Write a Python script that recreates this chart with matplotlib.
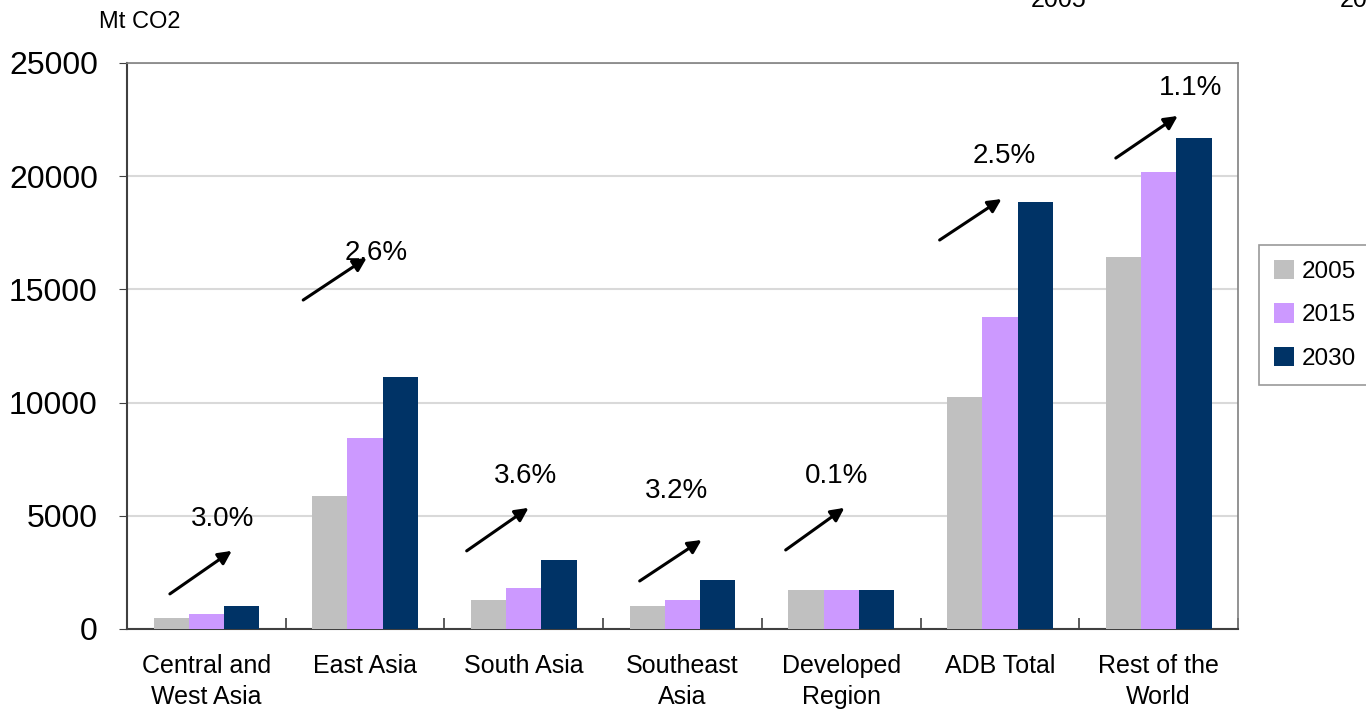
import numpy as np
import matplotlib.pyplot as plt

# categories and CO2 emissions (Mt CO2)
regions = ['Central and\nWest Asia', 'East Asia', 'South Asia', 'Southeast\nAsia',
           'Developed\nRegion', 'ADB Total', 'Rest of the\nWorld']
years = ['2005', '2015', '2030']
co2_2005 = [490, 5870, 1280, 1020, 1720, 10260, 16430]
co2_2015 = [660, 8440, 1810, 1280, 1720, 13790, 20190]
co2_2030 = [1020, 11130, 3050, 2160, 1710, 18860, 21690]
growth = ['3.0%', '2.6%', '3.6%', '3.2%', '0.1%', '2.5%', '1.1%']

colors = ['#C0C0C0', '#CC99FF', '#003366']

# arrow (start x offset, start y, end x offset, end y) and label position per region
arrow_pos = [(-0.23, 1550, 0.16, 3450), (-0.39, 14530, 0.01, 16390),
             (-0.36, 3450, 0.03, 5350), (-0.27, 2120, 0.12, 3930),
             (-0.35, 3490, 0.02, 5350), (-0.38, 17180, 0.01, 18990),
             (-0.27, 20800, 0.12, 22660)]
label_pos = [(0.10, 4860), (0.07, 16610), (0.01, 6760), (-0.04, 6100),
             (-0.03, 6760), (0.03, 20890), (0.20, 23900)]

plt.rcParams['font.family'] = ['Liberation Sans', 'DejaVu Sans']

fig = plt.figure(figsize=(13.66, 7.10), dpi=100)
ax = fig.add_axes([0.093, 0.1141, 0.8133, 0.7972])

x = np.arange(len(regions))
w = 0.222
series = [co2_2005, co2_2015, co2_2030]
for k in range(3):
    ax.bar(x + (k - 1) * w, series[k], w, color=colors[k], label=years[k], zorder=3)

ax.set_xlim(-0.5, len(regions) - 0.5)
ax.set_ylim(0, 25000)
ax.set_yticks(np.arange(0, 25001, 5000))
ax.yaxis.grid(True, color='#D9D9D9', linewidth=1.5, zorder=0)
ax.tick_params(axis='y', labelsize=23, length=6, pad=15, color='#404040')

ax.set_xticks(x)
ax.set_xticklabels(regions, fontsize=18, linespacing=1.35)
ax.tick_params(axis='x', which='major', length=0, pad=18)
ax.set_xticks(np.arange(-0.5, len(regions), 1), minor=True)
ax.tick_params(axis='x', which='minor', direction='in', length=8, width=1.2, color='#404040')

for s in ['left', 'bottom']:
    ax.spines[s].set_color('#404040')
    ax.spines[s].set_linewidth(1.5)
for s in ['top', 'right']:
    ax.spines[s].set_color('#808080')
    ax.spines[s].set_linewidth(1.2)

for i in range(len(regions)):
    x0, y0, x1, y1 = arrow_pos[i]
    ax.annotate('', xy=(i + x1, y1), xytext=(i + x0, y0),
                arrowprops=dict(arrowstyle='-|>', color='black', lw=2.2, mutation_scale=20,
                                shrinkA=0, shrinkB=0), zorder=5)
    ax.text(i + label_pos[i][0], label_pos[i][1], growth[i], fontsize=20,
            ha='center', va='center', zorder=5)

fig.text(0.102, 0.969, 'Mt CO2', fontsize=17, ha='center', va='center')

leg = fig.legend(loc='upper left', bbox_to_anchor=(0.9217, 0.655), fontsize=17.5,
                 frameon=True, fancybox=False, edgecolor='#808080', handlelength=0.85,
                 handleheight=0.85, handletextpad=0.3, labelspacing=0.85, borderpad=0.6,
                 borderaxespad=0)
leg.get_frame().set_linewidth(1.2)

# stray labels cut off at top edge of the original image
fig.text(0.775, 0.990, '2005', fontsize=18, ha='center', va='baseline')
fig.text(0.981, 0.990, '2015', fontsize=18, ha='left', va='baseline')

plt.savefig('out.png', dpi=100)
